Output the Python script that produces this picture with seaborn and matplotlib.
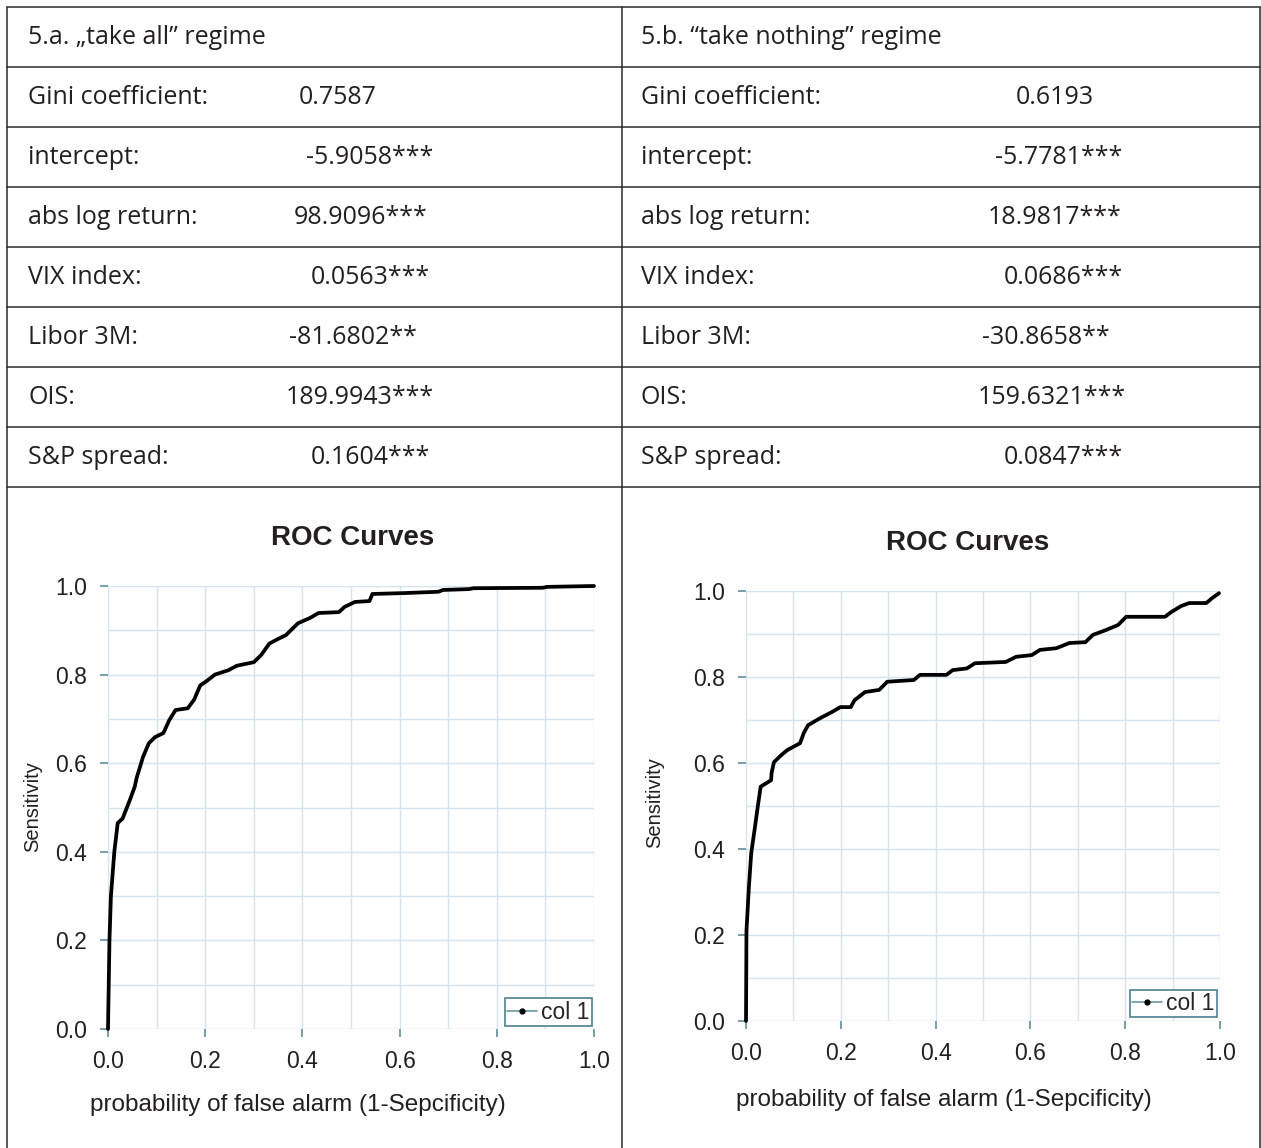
import numpy as np
import pandas as pd
import matplotlib.pyplot as plt
from matplotlib.lines import Line2D
import seaborn as sns

# ---- table contents ----
headers = ["5.a. \u201etake all\u201d regime", "5.b. \u201ctake nothing\u201d regime"]
row_labels = ["Gini coefficient:", "intercept:", "abs log return:", "VIX index:",
              "Libor 3M:", "OIS:", "S&P spread:"]
vals_a = ["0.7587", "-5.9058***", "98.9096***", "0.0563***", "-81.6802**",
          "189.9943***", "0.1604***"]
vals_b = ["0.6193", "-5.7781***", "18.9817***", "0.0686***", "-30.8658**",
          "159.6321***", "0.0847***"]

# ---- ROC curves ----
fpr_a = [0.0, 0.003, 0.006, 0.013, 0.02, 0.03, 0.045, 0.055, 0.059, 0.072, 0.084,
         0.097, 0.114, 0.126, 0.139, 0.164, 0.177, 0.19, 0.20, 0.22, 0.248, 0.265,
         0.30, 0.315, 0.332, 0.349, 0.366, 0.391, 0.416, 0.433, 0.475, 0.487, 0.508,
         0.538, 0.544, 0.609, 0.680, 0.689, 0.743, 0.752, 0.895, 0.903, 1.0]
tpr_a = [0.0, 0.20, 0.30, 0.40, 0.465, 0.475, 0.517, 0.547, 0.567, 0.614, 0.645,
         0.659, 0.668, 0.697, 0.72, 0.724, 0.743, 0.776, 0.783, 0.80, 0.81, 0.82,
         0.828, 0.844, 0.87, 0.88, 0.889, 0.916, 0.928, 0.939, 0.941, 0.953, 0.964,
         0.966, 0.982, 0.984, 0.987, 0.991, 0.993, 0.995, 0.996, 0.998, 1.0]

fpr_b = [0.0, 0.001, 0.006, 0.011, 0.018, 0.025, 0.031, 0.053, 0.054, 0.059, 0.074,
         0.087, 0.114, 0.122, 0.131, 0.156, 0.182, 0.199, 0.221, 0.229, 0.251, 0.281,
         0.298, 0.354, 0.367, 0.423, 0.436, 0.466, 0.483, 0.548, 0.570, 0.603, 0.620,
         0.655, 0.682, 0.716, 0.732, 0.759, 0.785, 0.802, 0.884, 0.897, 0.918, 0.935,
         0.971, 0.984, 0.998]
tpr_b = [0.0, 0.21, 0.31, 0.39, 0.444, 0.50, 0.545, 0.56, 0.577, 0.602, 0.618,
         0.63, 0.646, 0.67, 0.688, 0.704, 0.719, 0.73, 0.73, 0.746, 0.765, 0.77,
         0.789, 0.793, 0.805, 0.805, 0.816, 0.82, 0.832, 0.835, 0.847, 0.851, 0.863,
         0.867, 0.879, 0.881, 0.898, 0.909, 0.921, 0.940, 0.940, 0.951, 0.965, 0.972,
         0.972, 0.984, 0.995]

W, H = 1261, 1148
sns.set_style("white")
plt.rcParams['font.family'] = ['Liberation Sans', 'DejaVu Sans']
fig = plt.figure(figsize=(W / 100, H / 100), dpi=100)


def fx(x):
    return x / W


def fy(y):
    return 1 - y / H


# table grid
line_kw = dict(color="#2b2b2b", lw=1.1, transform=fig.transFigure)
for y in range(7, 488, 60):
    fig.add_artist(Line2D([fx(7), fx(1260)], [fy(y), fy(y)], **line_kw))
for x in (7, 622, 1260):
    fig.add_artist(Line2D([fx(x), fx(x)], [fy(7), fy(1148)], **line_kw))

tfont = dict(family=["Open Sans", "DejaVu Sans"], fontsize=18, color="#231f20", va="center")
fig.text(fx(28), fy(38), headers[0], **tfont)
fig.text(fx(641), fy(38), headers[1], **tfont)
centers_a = [338, 370, 361, 370, 353, 360, 370]
centers_b = [1055, 1059, 1055, 1063, 1046, 1052, 1063]
for i, lab in enumerate(row_labels):
    yc = fy(98 + 60 * i)
    fig.text(fx(28), yc, lab, **tfont)
    fig.text(fx(641), yc, lab, **tfont)
    fig.text(fx(centers_a[i]), yc, vals_a[i], ha="center", **tfont)
    fig.text(fx(centers_b[i]), yc, vals_b[i], ha="center", **tfont)


def roc_panel(box, fpr, tpr, title_xy, xlab_xy, ylab_xy, leg_anchor):
    x0, x1, ytop, ybot = box
    ax = fig.add_axes([fx(x0), fy(ybot), (x1 - x0) / W, (ybot - ytop) / H])
    df = pd.DataFrame({"fpr": fpr, "tpr": tpr})
    sns.lineplot(data=df, x="fpr", y="tpr", ax=ax, color="black", lw=2.7,
                 sort=False, estimator=None, legend=False, clip_on=False)
    ax.set_xlim(0, 1)
    ax.set_ylim(0, 1)
    ticks = np.arange(0, 1.01, 0.2)
    ax.set_xticks(ticks)
    ax.set_yticks(ticks)
    ax.set_xticks(np.arange(0, 1.01, 0.1), minor=True)
    ax.set_yticks(np.arange(0, 1.01, 0.1), minor=True)
    ax.set_xticklabels([f"{t:.1f}" for t in ticks])
    ax.set_yticklabels([f"{t:.1f}" for t in ticks])
    ax.grid(which="both", color="#d3e4ee", lw=1)
    ax.set_axisbelow(True)
    for s in ax.spines.values():
        s.set_visible(False)
    ax.tick_params(which="major", length=6, width=1.2, color="#5f8f9c",
                   labelsize=16.5, labelcolor="#231f20", pad=9, bottom=True, left=True)
    ax.tick_params(which="minor", length=0)
    ax.set_xlabel("")
    ax.set_ylabel("")
    fig.text(fx(title_xy[0]), fy(title_xy[1]), "ROC Curves", ha="center", va="center",
             fontsize=20, fontweight="bold", color="#231f20")
    fig.text(fx(xlab_xy[0]), fy(xlab_xy[1]), "probability of false alarm (1-Sepcificity)",
             ha="center", va="center", fontsize=17.5, color="#231f20")
    fig.text(fx(ylab_xy[0]), fy(ylab_xy[1]), "Sensitivity", ha="center", va="center",
             rotation=90, fontsize=14.5, color="#231f20")
    handle = Line2D([0], [0], color="#6a96a3", lw=1.2, marker="o", ms=3.5,
                    mfc="black", mec="black")
    leg = ax.legend([handle], ["col 1"], loc="lower right", bbox_to_anchor=leg_anchor,
                    borderaxespad=0, fancybox=False, framealpha=1, fontsize=16.5,
                    handlelength=1.3, handletextpad=0.2, borderpad=0.1)
    leg.get_frame().set_edgecolor("#4f7f8f")
    leg.get_frame().set_linewidth(1.2)
    return ax


roc_panel((108, 594, 586, 1029), fpr_a, tpr_a, (353, 538), (298, 1105), (33, 807),
          (0.996, 0.007))
roc_panel((746, 1220, 591, 1021), fpr_b, tpr_b, (968, 543), (944, 1100), (655, 803),
          (0.994, 0.009))

fig.savefig("out.png", dpi=100, facecolor="white")
